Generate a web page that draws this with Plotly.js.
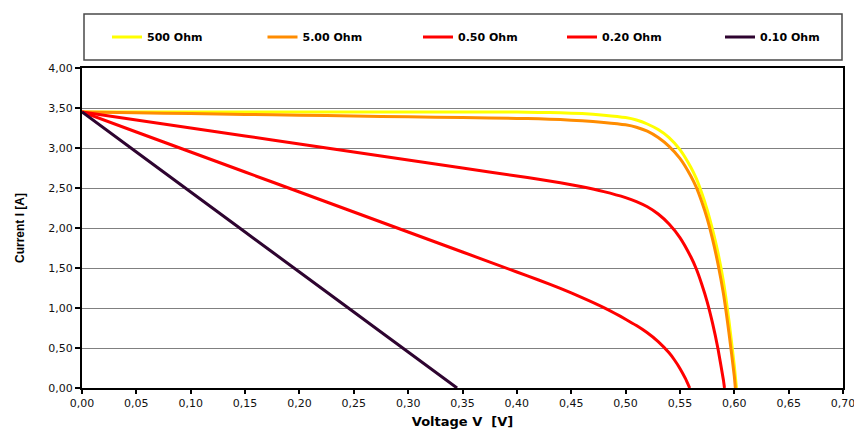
<!DOCTYPE html>
<html>
<head>
<meta charset="utf-8">
<script src="https://cdn.plot.ly/plotly-3.0.1.min.js"></script>
<style>
  html, body { margin: 0; padding: 0; background: #ffffff; }
  #chart { width: 854px; height: 430px; }
</style>
</head>
<body>
<div id="chart"></div>
<script>
// Series names (legend order)
const seriesNames = ["500 Ohm", "5.00 Ohm", "0.50 Ohm", "0.20 Ohm", "0.10 Ohm"];

// 500 Ohm
const voltage500 = [0, 0.05, 0.10, 0.15, 0.20, 0.25, 0.30, 0.35, 0.40, 0.42, 0.44, 0.46, 0.48, 0.50, 0.51, 0.52, 0.53, 0.54, 0.55, 0.56, 0.565, 0.57, 0.575, 0.58, 0.585, 0.59, 0.595, 0.60, 0.602];
const current500 = [3.45, 3.45, 3.45, 3.45, 3.45, 3.45, 3.45, 3.45, 3.45, 3.445, 3.44, 3.43, 3.41, 3.38, 3.35, 3.30, 3.23, 3.13, 2.98, 2.76, 2.62, 2.44, 2.23, 1.98, 1.69, 1.33, 0.85, 0.28, 0];

// 5.00 Ohm
const voltage5 = [0, 0.05, 0.10, 0.15, 0.20, 0.25, 0.30, 0.35, 0.40, 0.42, 0.44, 0.46, 0.48, 0.50, 0.51, 0.52, 0.53, 0.54, 0.55, 0.56, 0.565, 0.57, 0.575, 0.58, 0.585, 0.59, 0.595, 0.60, 0.601];
const current5 = [3.45, 3.44, 3.43, 3.42, 3.41, 3.40, 3.39, 3.38, 3.37, 3.365, 3.355, 3.34, 3.32, 3.29, 3.26, 3.21, 3.13, 3.02, 2.87, 2.65, 2.51, 2.33, 2.12, 1.86, 1.55, 1.18, 0.70, 0.15, 0];

// 0.50 Ohm
const voltage050 = [0, 0.05, 0.10, 0.15, 0.20, 0.25, 0.30, 0.35, 0.40, 0.42, 0.44, 0.46, 0.48, 0.50, 0.51, 0.52, 0.53, 0.54, 0.55, 0.56, 0.565, 0.57, 0.575, 0.58, 0.585, 0.59, 0.591];
const current050 = [3.45, 3.35, 3.25, 3.15, 3.05, 2.95, 2.85, 2.75, 2.65, 2.61, 2.565, 2.515, 2.455, 2.38, 2.33, 2.265, 2.175, 2.05, 1.88, 1.64, 1.49, 1.30, 1.08, 0.81, 0.49, 0.10, 0];

// 0.20 Ohm
const voltage020 = [0, 0.05, 0.10, 0.15, 0.20, 0.25, 0.30, 0.35, 0.40, 0.42, 0.44, 0.46, 0.48, 0.49, 0.50, 0.51, 0.52, 0.53, 0.54, 0.545, 0.55, 0.555, 0.559];
const current020 = [3.45, 3.20, 2.95, 2.70, 2.45, 2.20, 1.95, 1.70, 1.45, 1.35, 1.245, 1.13, 1.005, 0.935, 0.86, 0.78, 0.69, 0.58, 0.44, 0.35, 0.245, 0.12, 0];

// 0.10 Ohm
const voltage010 = [0, 0.05, 0.10, 0.15, 0.20, 0.25, 0.30, 0.345];
const current010 = [3.45, 2.95, 2.45, 1.95, 1.45, 0.95, 0.45, 0];

// Axis ticks
const xTicks = [0, 0.05, 0.10, 0.15, 0.20, 0.25, 0.30, 0.35, 0.40, 0.45, 0.50, 0.55, 0.60, 0.65, 0.70];
const yTicks = [0, 0.5, 1.0, 1.5, 2.0, 2.5, 3.0, 3.5, 4.0];

const colors = ["#FFFF00", "#FF8C00", "#FF0000", "#FF0000", "#2E0430"];
const legendIds = ["legend", "legend", "legend", "legend2", "legend2"];
const xs = [voltage500, voltage5, voltage050, voltage020, voltage010];
const ys = [current500, current5, current050, current020, current010];

const traces = seriesNames.map((name, i) => ({
  type: "scatter",
  mode: "lines",
  name: name,
  legend: legendIds[i],
  x: xs[i],
  y: ys[i],
  line: { color: colors[i], width: 3, shape: "spline", smoothing: 0.5 },
  hoverinfo: "x+y+name"
}));

const W = 854, H = 430;
const mL = 82, mR = 11, mT = 68, mB = 42;
const pw = W - mL - mR, ph = H - mT - mB;
const px2x = p => (p - mL) / pw;
const py2y = p => (H - mB - p) / ph;

const legendFont = { family: "DejaVu Sans, Arial, sans-serif", size: 11, color: "#000000", weight: "bold" };
const baseLegend = {
  orientation: "h",
  xanchor: "left",
  yanchor: "middle",
  y: py2y(37),
  entrywidthmode: "pixels",
  bgcolor: "rgba(0,0,0,0)",
  borderwidth: 0,
  font: legendFont,
  itemclick: false,
  itemdoubleclick: false
};

const layout = {
  width: W,
  height: H,
  margin: { l: mL, r: mR, t: mT, b: mB, pad: 0, autoexpand: false },
  paper_bgcolor: "#ffffff",
  plot_bgcolor: "#ffffff",
  separators: ", ",
  font: { family: "DejaVu Sans, Liberation Sans, Arial, sans-serif", size: 11, color: "#111111" },
  showlegend: true,
  legend: Object.assign({}, baseLegend, { x: px2x(107), entrywidth: 110.5 }),
  legend2: Object.assign({}, baseLegend, { x: px2x(562), entrywidth: 113 }),
  xaxis: {
    range: [0, 0.70],
    tickvals: xTicks,
    tickformat: ".2f",
    ticks: "outside",
    ticklen: 4,
    tickwidth: 2,
    tickcolor: "#000000",
    ticklabeloverflow: "allow",
    showgrid: false,
    zeroline: false,
    showline: true,
    linecolor: "#000000",
    linewidth: 2,
    mirror: true,
    automargin: false,
    tickfont: { family: "DejaVu Sans, Arial, sans-serif", size: 11, color: "#111111" },
    title: {
      text: "Voltage V\u00a0\u00a0[V]",
      font: { family: "DejaVu Sans, Arial, sans-serif", size: 13, color: "#000000", weight: "bold" },
      standoff: 8
    },
    fixedrange: true
  },
  yaxis: {
    range: [0, 4],
    tickvals: yTicks,
    tickformat: ".2f",
    ticks: "outside",
    ticklen: 5,
    tickwidth: 2,
    tickcolor: "#000000",
    ticklabeloverflow: "allow",
    showgrid: true,
    gridcolor: "#808080",
    gridwidth: 1,
    zeroline: false,
    showline: true,
    linecolor: "#000000",
    linewidth: 2,
    mirror: true,
    automargin: false,
    tickfont: { family: "DejaVu Sans, Arial, sans-serif", size: 11, color: "#111111" },
    title: {
      text: "Current I [A]",
      font: { family: "Liberation Sans, Arial, sans-serif", size: 12, color: "#000000", weight: "bold" },
      standoff: 21
    },
    fixedrange: true
  },
  shapes: [
    {
      type: "rect",
      xref: "paper",
      yref: "paper",
      x0: px2x(84),
      x1: px2x(842),
      y0: py2y(60),
      y1: py2y(14),
      line: { color: "#4a4a4a", width: 1.5 },
      fillcolor: "rgba(0,0,0,0)",
      layer: "below"
    }
  ]
};

Plotly.newPlot("chart", traces, layout, { displayModeBar: false, responsive: false });
</script>
</body>
</html>
